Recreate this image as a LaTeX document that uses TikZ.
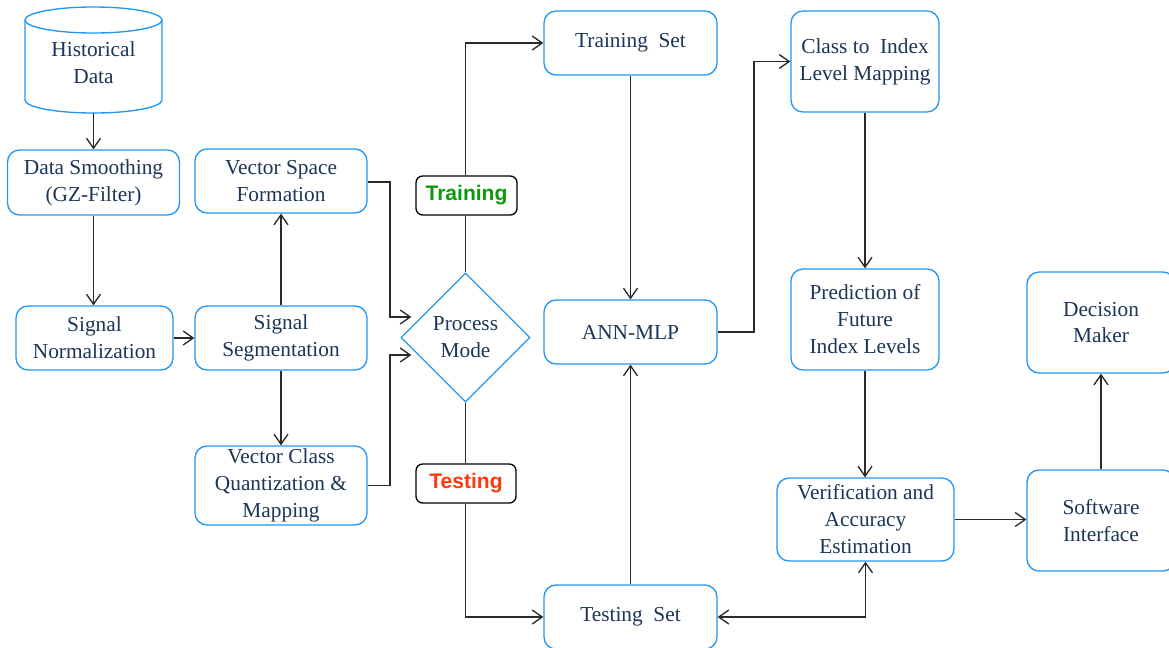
\documentclass[tikz,border=0pt]{standalone}
\usepackage{fontspec}
\setmainfont{Liberation Serif}
\newfontfamily\labfont{Liberation Sans}
\usetikzlibrary{arrows.meta,shapes.geometric,calc}
\definecolor{txtc}{HTML}{1B3556}
\definecolor{boxc}{HTML}{2196F3}
\definecolor{linec}{HTML}{2A2A2A}
\definecolor{trgreen}{HTML}{0A9A0A}
\definecolor{tered}{HTML}{FF3A0A}
\begin{document}
\begin{tikzpicture}[x=0.75pt,y=-0.75pt,
  every node/.style={text=txtc, font=\fontsize{16}{20.2}\selectfont, align=center, inner sep=0pt},
  box/.style={draw=boxc, line width=1pt, rounded corners=9pt},
  lab/.style={draw=black, line width=1pt, rounded corners=5pt, font=\labfont\bfseries\fontsize{15.8}{18}\selectfont},
  conn/.style={draw=linec, line width=1.05pt},
  arr/.style={conn, -{Straight Barb[length=7.5pt,width=10.5pt,line width=1pt]}},
  darr/.style={conn, {Straight Barb[length=7.5pt,width=10.5pt,line width=1pt]}-{Straight Barb[length=7.5pt,width=10.5pt,line width=1pt]}},
  wh/.style 2 args={minimum width=#1*0.75pt, minimum height=#2*0.75pt}
]
\useasboundingbox (0,0) rectangle (1169,647);

% cylinder
\draw[boxc, line width=1pt] (25,20) -- (25,100) arc[start angle=180, end angle=360, x radius=51.375pt, y radius=9.75pt] -- (162,20);
\draw[boxc, line width=1pt] (93.5,20) ellipse [x radius=51.375pt, y radius=9.75pt];
\node[wh={137}{106}] (cyl) at (93.5,60) {};
\node at (93.5,63) {Historical\\Data};

\node[box, wh={172}{65}] (ds) at (93.5,182.5) {Data Smoothing\\(GZ-Filter)};
\node[box, wh={157}{64}] (sn) at (94.5,338) {Signal\\Normalization};
\node[box, wh={172}{64}] (vsf) at (281,181) {Vector Space\\Formation};
\node[box, wh={172}{64}] (ss) at (281,338) {Signal\\Segmentation};
\node[box, wh={172}{79}] (vcq) at (281,485.5) {Vector Class\\Quantization \&\\Mapping};

\node[draw=boxc, line width=1pt, diamond, wh={129}{129}] (pm) at (465.5,337.5) {Process\\Mode};
\node[lab, text=trgreen, wh={101}{39}] (trl) at (466.5,195.5) {Training};
\node[lab, text=tered, wh={100}{39}] (tel) at (466,483.5) {Testing};

\node[box, wh={173}{64}] (ts) at (630.5,43) {Training~ Set};
\node[box, wh={173}{64}] (ann) at (630.5,332) {ANN-MLP};
\node[box, wh={173}{64}] (tst) at (630.5,617) {Testing~ Set};

\node[box, wh={148}{101}] (ci) at (865,61.5) {Class to~ Index\\Level Mapping};
\node[box, wh={148}{101}] (pred) at (865,319.5) {Prediction of\\Future\\Index Levels};
\node[box, wh={177}{83}] (ver) at (865.5,519.5) {Verification and\\Accuracy\\Estimation};

\node[box, wh={148}{101}] (si) at (1101,520.5) {Software\\Interface};
\node[box, wh={148}{101}] (dm) at (1101,322.5) {Decision\\Maker};

% connectors
\draw[arr] (cyl.south) -- (ds.north);
\draw[arr] (ds.south) -- (ds.south |- sn.north);
\draw[arr] (sn.east) -- (ss.west);
\draw[arr] (ss.north) -- (vsf.south);
\draw[arr] (ss.south) -- (vcq.north);
\coordinate (pin1) at ($(pm.west)+(11,-20.5)$);
\coordinate (pin2) at ($(pm.west)+(11,17.5)$);
\draw[arr] (vsf.east |- 0,182) -- (390,182) |- (pin1);
\draw[arr] (vcq.east) -- (390,485.5) |- (pin2);
\draw[conn] (pm.north) -- (trl.south -| pm.north);
\draw[conn] (pm.south) -- (tel.north -| pm.south);
\draw[arr] (trl.north -| pm.north) |- (ts.west);
\draw[arr] (tel.south -| pm.south) |- (tst.west);
\draw[arr] (ts.south) -- (ann.north);
\draw[arr] (tst.north) -- (ann.south);
\draw[arr] (ann.east) -- (754,332) |- (ci.west);
\draw[arr] (ci.south) -- (pred.north);
\draw[arr] (pred.south) -- (pred.south |- ver.north);
\draw[darr] (tst.east) -| (ver.south);
\draw[arr] (ver.east) -- (ver.east -| si.west);
\draw[arr] (si.north) -- (dm.south);
\end{tikzpicture}
\end{document}
